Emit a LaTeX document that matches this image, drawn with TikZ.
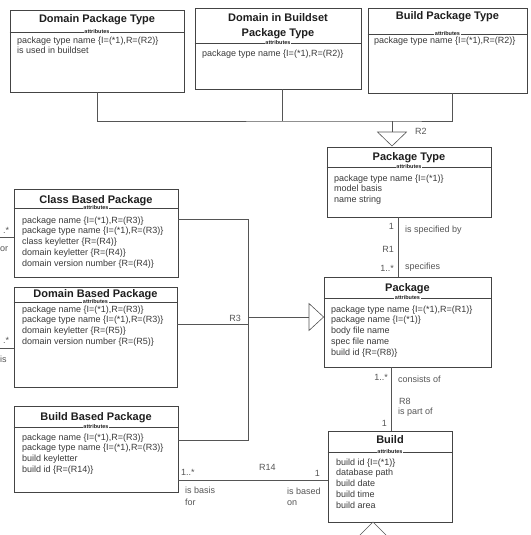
\documentclass[tikz,border=0pt]{standalone}
\usepackage{fontspec}
\setmainfont{Liberation Sans}
\definecolor{boxline}{HTML}{444444}
\definecolor{linegray}{HTML}{555555}
\definecolor{titlegray}{HTML}{1E1E1E}
\definecolor{textgray}{HTML}{3A3A3A}
\definecolor{labelgray}{HTML}{555555}
\begin{document}
\begin{tikzpicture}[x=1pt,y=-1pt,
    classbox/.style={draw=boxline,line width=0.8pt,inner sep=0pt,fill=white},
    classtitle/.style={font=\fontsize{11}{15}\selectfont\bfseries,text=titlegray,inner sep=0pt,align=center},
    attrtag/.style={font=\fontsize{5.5}{6}\selectfont\bfseries,text=titlegray,fill=white,inner sep=0.8pt},
    attrlist/.style={font=\fontsize{9}{10.8}\selectfont,text=textgray,align=left,anchor=north west,inner sep=0pt},
    rellabel/.style={font=\fontsize{9}{11}\selectfont,text=labelgray,inner sep=0pt},
    conn/.style={draw=linegray,line width=0.8pt},
    supertri/.style={draw=linegray,line width=0.6pt,fill=white}]
  \useasboundingbox (0,0) rectangle (530,535);
  \clip (0,0) rectangle (530,535);

  % classes
  \node[classbox,minimum width=174,minimum height=82] (dpt) at (97,51) {};
  \node[classtitle,anchor=base] at (97,23) {Domain Package Type};
  \draw[draw=boxline,line width=0.8pt] (dpt.west |- 0,32) -- (dpt.east |- 0,32);
  \node[attrtag] at (97,32) {attributes};
  \node[attrlist] at (17,36.4) {package type name \{I=(*1),R=(R2)\}\\is used in buildset};

  \node[classbox,minimum width=166,minimum height=81] (dbpt) at (278,48.5) {};
  \node[classtitle] at (278,26.5) {Domain in Buildset\\Package Type};
  \draw[draw=boxline,line width=0.8pt] (dbpt.west |- 0,43) -- (dbpt.east |- 0,43);
  \node[attrtag] at (278,43) {attributes};
  \node[attrlist] at (202,50.2) {package type name \{I=(*1),R=(R2)\}};

  \node[classbox,minimum width=159,minimum height=85] (bpt) at (447.5,50.5) {};
  \node[classtitle,anchor=base] at (447.5,20) {Build Package Type};
  \draw[draw=boxline,line width=0.8pt] (bpt.west |- 0,34) -- (bpt.east |- 0,34);
  \node[attrtag] at (447.5,34) {attributes};
  \node[attrlist] at (374,36.4) {package type name \{I=(*1),R=(R2)\}};

  \node[classbox,minimum width=164,minimum height=70] (pt) at (409,182) {};
  \node[classtitle,anchor=base] at (409,160) {Package Type};
  \draw[draw=boxline,line width=0.8pt] (pt.west |- 0,167) -- (pt.east |- 0,167);
  \node[attrtag] at (409,167) {attributes};
  \node[attrlist] at (334,174.4) {package type name \{I=(*1)\}\\model basis\\name string};

  \node[classbox,minimum width=164,minimum height=88] (cbp) at (96,233) {};
  \node[classtitle,anchor=base] at (96,203) {Class Based Package};
  \draw[draw=boxline,line width=0.8pt] (cbp.west |- 0,208) -- (cbp.east |- 0,208);
  \node[attrtag] at (96,208) {attributes};
  \node[attrlist] at (22,216.4) {package name \{I=(*1),R=(R3)\}\\package type name \{I=(*1),R=(R3)\}\\class keyletter \{R=(R4)\}\\domain keyletter \{R=(R4)\}\\domain version number \{R=(R4)\}};

  \node[classbox,minimum width=163,minimum height=100] (dbp) at (95.5,337) {};
  \node[classtitle,anchor=base] at (95.5,297) {Domain Based Package};
  \draw[draw=boxline,line width=0.8pt] (dbp.west |- 0,302) -- (dbp.east |- 0,302);
  \node[attrtag] at (95.5,302) {attributes};
  \node[attrlist] at (22,305.4) {package name \{I=(*1),R=(R3)\}\\package type name \{I=(*1),R=(R3)\}\\domain keyletter \{R=(R5)\}\\domain version number \{R=(R5)\}};

  \node[classbox,minimum width=164,minimum height=86] (bbp) at (96,449) {};
  \node[classtitle,anchor=base] at (96,420) {Build Based Package};
  \draw[draw=boxline,line width=0.8pt] (bbp.west |- 0,427) -- (bbp.east |- 0,427);
  \node[attrtag] at (96,427) {attributes};
  \node[attrlist] at (22,433.4) {package name \{I=(*1),R=(R3)\}\\package type name \{I=(*1),R=(R3)\}\\build keyletter\\build id \{R=(R14)\}};

  \node[classbox,minimum width=167,minimum height=90] (pkg) at (407.5,322) {};
  \node[classtitle,anchor=base] at (407.5,291) {Package};
  \draw[draw=boxline,line width=0.8pt] (pkg.west |- 0,298) -- (pkg.east |- 0,298);
  \node[attrtag] at (407.5,298) {attributes};
  \node[attrlist] at (331,305.4) {package type name \{I=(*1),R=(R1)\}\\package name \{I=(*1)\}\\body file name\\spec file name\\build id \{R=(R8)\}};

  \node[classbox,minimum width=124,minimum height=91] (bld) at (390,476.5) {};
  \node[classtitle,anchor=base] at (390,443) {Build};
  \draw[draw=boxline,line width=0.8pt] (bld.west |- 0,452) -- (bld.east |- 0,452);
  \node[attrtag] at (390,452) {attributes};
  \node[attrlist] at (336,458.4) {build id \{I=(*1)\}\\database path\\build date\\build time\\build area};

  % R2
  \coordinate (r2) at (392,121);
  \coordinate (bptfoot) at ([xshift=4.5]bpt.south);
  \coordinate (dbptfoot) at ([xshift=4]dbpt.south);
  \coordinate (r2base) at (392,132);
  \coordinate (r2tip) at (392,146);
  \draw[conn] (dpt.south) |- (r2) -| (bptfoot);
  \draw[conn] (dbptfoot) -- (dbptfoot |- r2);
  \draw[conn] (r2) -- (r2base);
  \draw[supertri] ([xshift=-14.5]r2base) -- ([xshift=14.5]r2base) -- (r2tip) -- cycle;
  \node[rellabel,anchor=base west] at (415,134.5) {R2};

  % R1
  \coordinate (r1) at (398,250);
  \draw[conn] (pt.south -| r1) -- (pkg.north -| r1);
  \node[rellabel,anchor=base east] at (394,229) {1};
  \node[rellabel,anchor=base west] at (405,232) {is specified by};
  \node[rellabel,anchor=base east] at (394,252) {R1};
  \node[rellabel,anchor=base east] at (394,271) {1..*};
  \node[rellabel,anchor=base west] at (405,269) {specifies};

  % R3
  \coordinate (r3top) at (248,219);
  \coordinate (r3bot) at (248,440);
  \coordinate (r3dom) at (248,324);
  \coordinate (r3) at (248,317);
  \coordinate (r3base) at (309,317);
  \draw[conn] (r3top -| cbp.east) -- (r3top) -- (r3bot) -- (r3bot -| bbp.east);
  \draw[conn] (r3dom -| dbp.east) -- (r3dom);
  \draw[conn] (r3) -- (r3base);
  \draw[supertri] ([yshift=13.5]r3base) -- ([yshift=-13.5]r3base) -- (r3 -| pkg.west) -- cycle;
  \node[rellabel,anchor=base east] at (241,321) {R3};

  % R8
  \coordinate (r8) at (391,400);
  \draw[conn] (pkg.south -| r8) -- (bld.north -| r8);
  \node[rellabel,anchor=base east] at (388,380) {1..*};
  \node[rellabel,anchor=base west] at (398,382) {consists of};
  \node[rellabel,anchor=base west] at (399,404) {R8};
  \node[rellabel,anchor=base west] at (398,414) {is part of};
  \node[rellabel,anchor=base east] at (387,426) {1};

  % R14
  \coordinate (r14) at (250,480);
  \draw[conn] (r14 -| bbp.east) -- (r14 -| bld.west);
  \node[rellabel,anchor=base west] at (181,475) {1..*};
  \node[rellabel,anchor=base west] at (259,470) {R14};
  \node[rellabel,anchor=base west] at (185,493) {is basis};
  \node[rellabel,anchor=base west] at (185,505) {for};
  \node[rellabel,anchor=base east] at (320,476) {1};
  \node[rellabel,anchor=base west] at (287,494) {is based};
  \node[rellabel,anchor=base west] at (287,505) {on};

  % stubs at the left edge
  \coordinate (cbpstub) at (0,237);
  \coordinate (dbpstub) at (0,348);
  \draw[conn] (cbpstub) -- (cbpstub -| cbp.west);
  \draw[conn] (dbpstub) -- (dbpstub -| dbp.west);
  \node[rellabel,anchor=base west] at (3,233) {.*};
  \node[rellabel,anchor=base west] at (0,251) {or};
  \node[rellabel,anchor=base west] at (3,343) {.*};
  \node[rellabel,anchor=base west] at (0,362) {is};

  % subtype marker under Build
  \coordinate (bldtip) at (373,522);
  \coordinate (bldbase) at (373,537);
  \draw[supertri] (bldtip) -- ([xshift=-15]bldbase) -- ([xshift=15]bldbase) -- cycle;
\end{tikzpicture}
\end{document}
